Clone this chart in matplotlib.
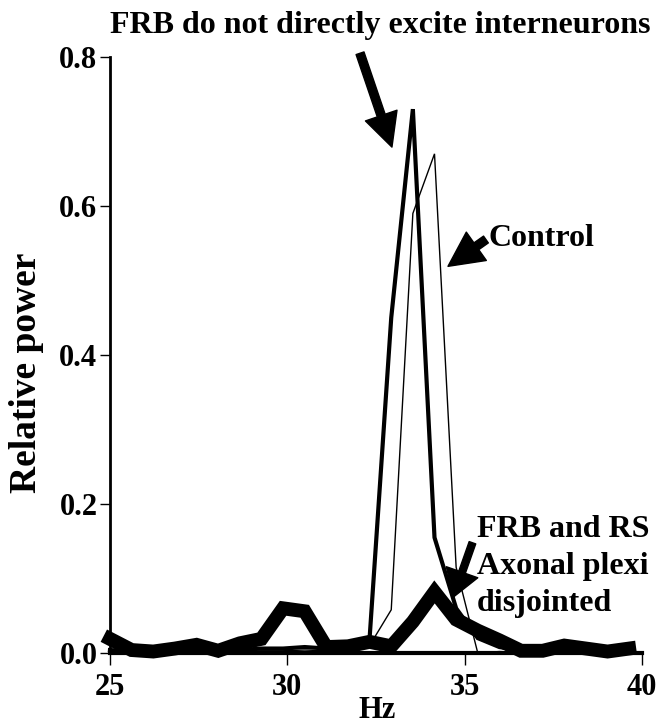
import matplotlib
matplotlib.use("Agg")
import matplotlib.pyplot as plt

plt.rcParams['font.family'] = ['Liberation Serif', 'DejaVu Serif']
plt.rcParams['font.weight'] = 'bold'

# Frequency grid (Hz)
freq = [25.0, 25.61, 26.22, 26.83, 27.44, 28.05, 28.66, 29.27, 29.88, 30.49,
        31.1, 31.71, 32.32, 32.93, 33.54, 34.15, 34.76, 35.37, 35.98, 36.59,
        37.2, 37.81, 38.42, 39.03, 39.64]

# Relative power, three conditions
control = [0.002, 0.001, 0.001, 0.002, 0.002, 0.001, 0.002, 0.003, 0.003, 0.004,
           0.003, 0.004, 0.01, 0.058, 0.59, 0.67, 0.115, 0.0, 0.002, 0.001,
           0.001, 0.002, 0.001, 0.001, 0.002]
frb_no_exc = [0.004, 0.002, 0.002, 0.003, 0.004, 0.003, 0.004, 0.006, 0.006, 0.008,
              0.006, 0.008, 0.02, 0.45, 0.73, 0.155, 0.06, 0.02, 0.008, 0.004,
              0.003, 0.004, 0.003, 0.002, 0.003]
disjointed = [0.019, 0.004, 0.002, 0.006, 0.011, 0.003, 0.013, 0.019, 0.06, 0.056,
              0.008, 0.009, 0.015, 0.009, 0.042, 0.082, 0.045, 0.03, 0.017, 0.003,
              0.003, 0.01, 0.006, 0.002, 0.006]

fig = plt.figure(figsize=(6.63, 7.23), dpi=100)
ax = fig.add_axes([0.1659, 0.0968, 0.8024, 0.8244])

ax.plot(freq, disjointed, color='black', lw=10, solid_joinstyle='miter', clip_on=False)
ax.plot(freq, frb_no_exc, color='black', lw=3, solid_joinstyle='miter', clip_on=False)
ax.plot(freq, control, color='black', lw=1, solid_joinstyle='miter', clip_on=False)

ax.set_xlim(25, 40)
ax.set_ylim(0, 0.8)
ax.set_xticks([25, 30, 35, 40])
ax.set_yticks([0.0, 0.2, 0.4, 0.6, 0.8])
ax.set_yticklabels(['0.0', '0.2', '0.4', '0.6', '0.8'])
ax.spines['top'].set_visible(False)
ax.spines['right'].set_visible(False)
ax.spines['left'].set_linewidth(2)
ax.spines['bottom'].set_linewidth(3)
ax.tick_params(axis='y', direction='out', length=7, width=1, pad=2, labelsize=22)
ax.tick_params(axis='x', direction='out', length=8.5, width=1, pad=6, labelsize=22)

fig.text(380 / 663, 1 - 25 / 723, 'FRB do not directly excite interneurons',
         ha='center', va='center', fontsize=23, fontweight='bold')
fig.text(377 / 663, 1 - 710 / 723, 'Hz', ha='center', va='center',
         fontsize=22, fontweight='bold')
fig.text(27 / 663, 1 - 373 / 723, 'Relative power', ha='center', va='center',
         rotation=90, fontsize=27, fontweight='bold')

# Arrows and labels
ax.annotate('', xy=(32.95, 0.679), xytext=(32.05, 0.805),
            arrowprops=dict(arrowstyle='simple,head_length=2.4,head_width=2.4,tail_width=0.6',
                            color='black', shrinkA=0, shrinkB=0, mutation_scale=10),
            annotation_clip=False)
ax.annotate('', xy=(34.53, 0.519), xytext=(35.6, 0.555),
            arrowprops=dict(arrowstyle='simple,head_length=2.5,head_width=2.5,tail_width=0.6',
                            color='black', shrinkA=0, shrinkB=0, mutation_scale=10),
            annotation_clip=False)
ax.text(35.66, 0.557, 'Control', ha='left', va='center', fontsize=23, fontweight='bold')

ax.annotate('', xy=(34.68, 0.075), xytext=(35.22, 0.148),
            arrowprops=dict(arrowstyle='simple,head_length=1.9,head_width=2.4,tail_width=0.5',
                            color='black', shrinkA=0, shrinkB=0, mutation_scale=10),
            annotation_clip=False)
ax.text(35.35, 0.116, 'FRB and RS\nAxonal plexi\ndisjointed', ha='left', va='center',
        fontsize=23, fontweight='bold', linespacing=1.35)

fig.savefig('out.png', dpi=100)
